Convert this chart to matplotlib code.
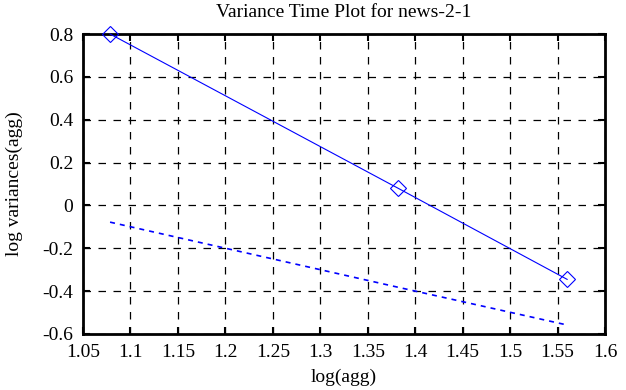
import matplotlib
matplotlib.use('Agg')
import matplotlib.pyplot as plt

# data
log_agg = [1.0785, 1.382, 1.560]
log_var = [0.800, 0.080, -0.345]
ref_x = [1.0785, 1.382, 1.560]
ref_y = [-0.078, -0.382, -0.558]

x_ticks = [1.05, 1.1, 1.15, 1.2, 1.25, 1.3, 1.35, 1.4, 1.45, 1.5, 1.55, 1.6]
x_labels = ['1.05', '1.1', '1.15', '1.2', '1.25', '1.3', '1.35', '1.4', '1.45', '1.5', '1.55', '1.6']
y_ticks = [-0.6, -0.4, -0.2, 0, 0.2, 0.4, 0.6, 0.8]
y_labels = ['-0.6', '-0.4', '-0.2', '0', '0.2', '0.4', '0.6', '0.8']

plt.rcParams['font.family'] = ['Liberation Serif', 'DejaVu Serif']
fs = 14

fig = plt.figure(figsize=(6.26, 3.9), dpi=100)
ax = fig.add_axes([0.1326, 0.1436, 0.834, 0.7692])

ax.plot(log_agg, log_var, color='blue', linewidth=0.8, marker='D',
        markersize=8, markerfacecolor='none', markeredgecolor='blue',
        markeredgewidth=0.8, clip_on=False, zorder=3)
ax.plot(ref_x, ref_y, color='blue', linewidth=1.2, linestyle=(0, (3, 3)), zorder=3)

ax.set_xlim(1.05, 1.6)
ax.set_ylim(-0.6, 0.8)
ax.set_xticks(x_ticks)
ax.set_xticklabels(x_labels)
ax.set_yticks(y_ticks)
ax.set_yticklabels(y_labels)

ax.grid(True, color='black', linestyle=(0, (6, 6)), linewidth=0.9)
ax.tick_params(direction='in', length=5, width=1.5, top=True, right=True,
               labelsize=fs, pad=7)
for s in ax.spines.values():
    s.set_linewidth(2)

ax.set_title('Variance Time Plot for news-2-1', fontsize=fs, pad=12)
ax.set_xlabel('log(agg)', fontsize=fs, labelpad=6)
ax.set_ylabel('log variances(agg)', fontsize=fs, labelpad=14)

fig.savefig('out.png', dpi=100, facecolor='white')
